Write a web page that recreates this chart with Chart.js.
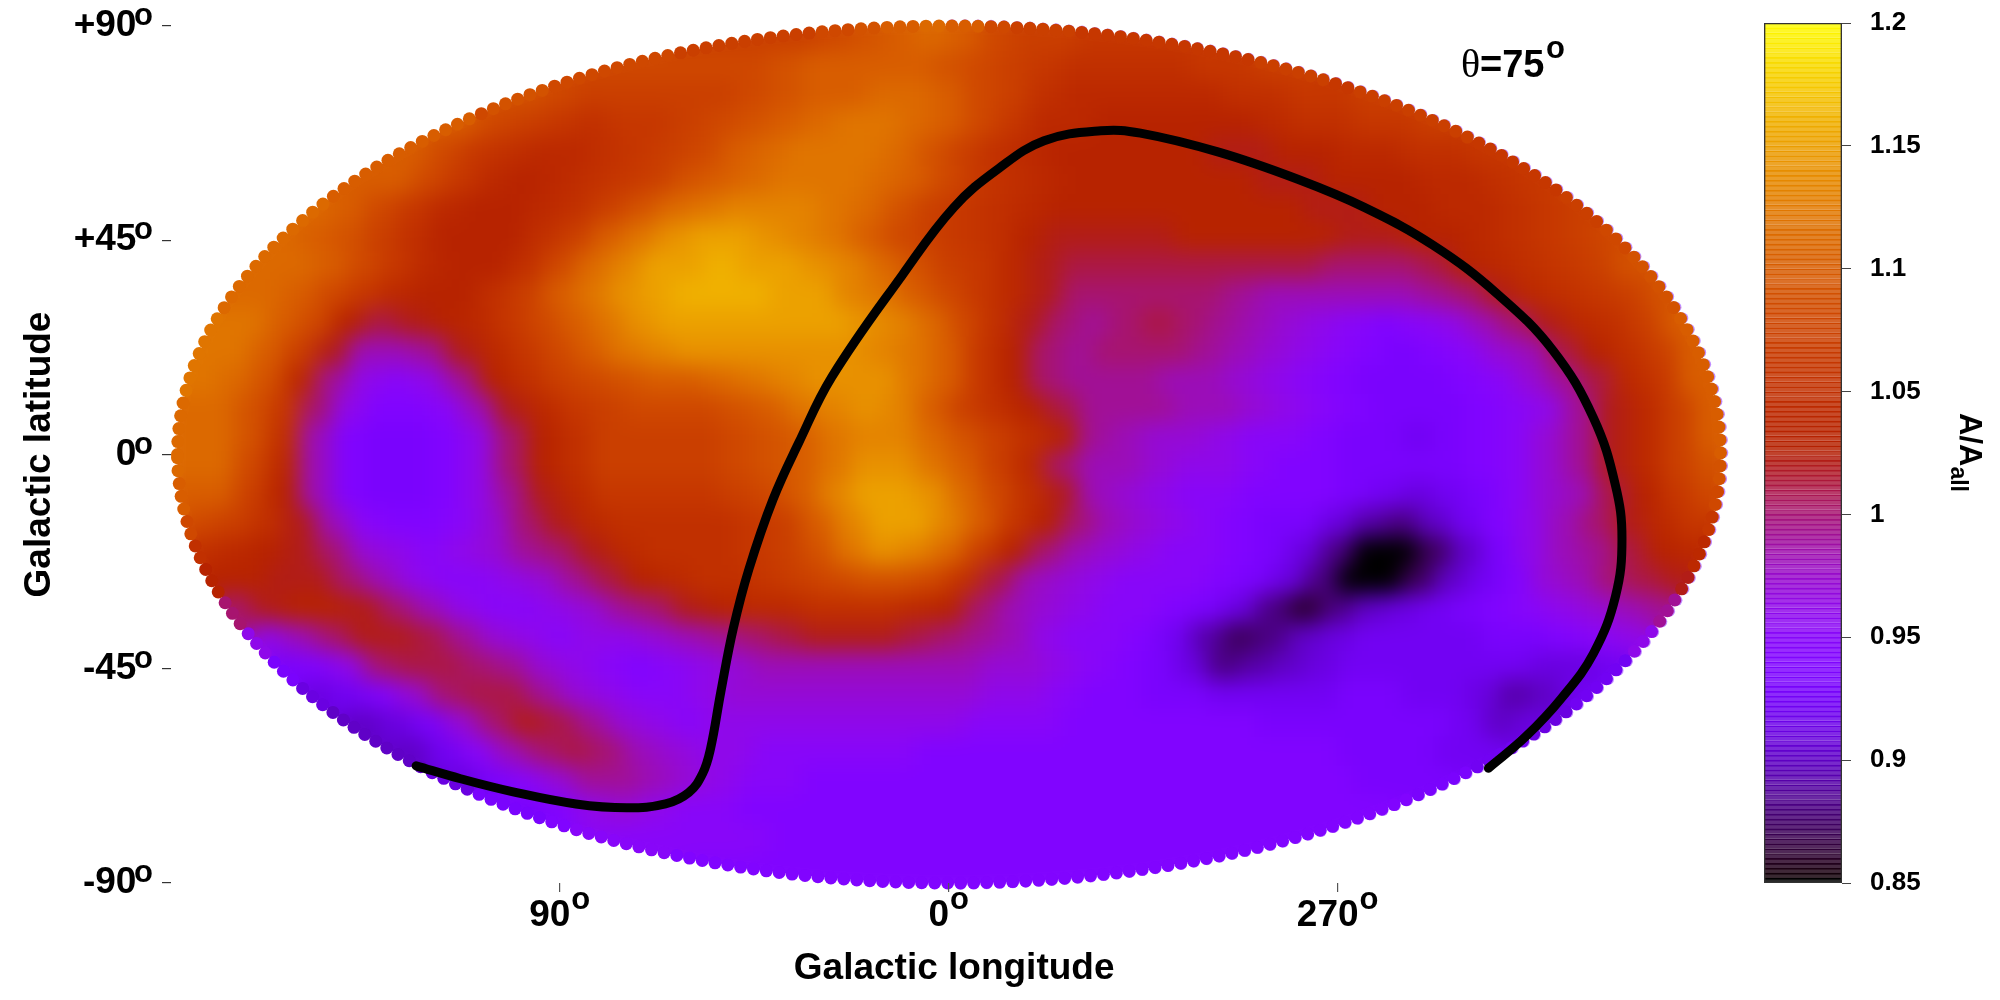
<!DOCTYPE html>
<html><head><meta charset="utf-8">
<style>html,body{margin:0;background:#fff;width:2000px;height:1000px;overflow:hidden}
canvas{position:absolute;top:0}</style>
<script src="https://cdn.jsdelivr.net/npm/chart.js@4"></script></head>
<body><canvas id="map" width="2000" height="1000" style="left:0"></canvas>
<canvas id="bar" width="260" height="1000" style="left:1740px"></canvas>
<script>
const FONT='"Liberation Sans",Arial,sans-serif';
const latTickValues=[90,45,0,-45,-90];
const latTickLabels=['+90','+45','0','-45','-90'];
const lonTickValues=[90,0,-90];
const lonTickLabels=['90','0','270'];
const barTickValues=[0.85,0.9,0.95,1,1.05,1.1,1.15,1.2];
const cellLon=7.5;
const rowLats=[87,81,75,69,63,57,51,45,39,33,27,21,15,9,3,-3,-9,-15,-21,-27,-33,-39,-45,-51,-57,-63,-69,-75,-81,-87];
// A/A_all in percent, each row reads left to right on the map and is centred on longitude 0
const rowsNorth=[
[107,107,108,109,110,111,110,108,107,107,106,106],
[108,108,108,108,108,109,110,110,110,110,109,108,107,106,105,105,105,105,106,106,107],
[109,108,107,107,107,107,107,108,109,110,110,111,111,110,108,107,105,104,104,104,104,104,105,105,106,106,107],
[110,108,107,106,105,106,106,107,108,109,110,111,112,112,111,110,108,106,104,104,103,103,103,103,103,104,105,105,106,106,107],
[110,108,106,105,104,104,105,106,107,108,110,111,112,112,112,111,109,107,105,104,103,103,103,103,103,102,102,103,103,104,104,105,105,106],
[110,110,108,106,104,103,104,105,106,107,109,110,111,112,112,112,111,110,108,106,105,104,103,103,103,103,103,103,102,102,103,103,103,104,104,105,106],
[111,110,108,106,104,103,103,104,105,107,109,111,112,113,113,113,112,111,109,107,106,105,104,103,103,103,103,103,103,103,103,102,102,103,103,104,104,105,106,107],
[111,110,109,107,105,103,103,103,105,107,110,112,114,115,115,114,113,112,110,108,107,106,105,103,102,102,102,102,103,103,103,103,103,102,102,103,103,104,105,106,107,108],
[111,111,110,108,106,104,103,103,105,108,111,113,115,115,116,115,115,114,113,111,109,107,106,104,102,101,101,101,101,101,101,101,101,100,100,100,101,103,104,105,106,107,109],
[111,111,110,108,106,104,103,103,105,107,110,112,114,115,116,116,116,115,115,113,112,110,108,106,104,102,100,100,100,100,100,99,98,98,98,98,98,99,100,102,104,105,106,107,109],
[112,112,110,108,103,101,102,103,104,106,108,110,112,114,115,115,115,115,115,115,114,113,111,108,105,102,100,99,100,101,100,99,98,97,96,95,94,95,96,98,100,102,104,105,107,110],
[112,112,110,107,102,98,98,99,102,104,106,108,110,112,113,114,114,114,114,114,114,113,112,110,106,103,100,99,100,100,100,99,98,97,96,95,94,93,94,95,97,98,101,103,105,107,110],
[112,111,109,104,99,96,95,96,99,103,105,107,108,109,110,110,111,112,113,114,114,114,112,110,106,103,100,99,99,99,98,98,97,96,95,94,93,93,93,94,95,97,99,101,104,106,110],
[111,111,109,106,100,96,94,94,95,98,102,104,106,107,108,108,108,109,110,112,113,114,113,110,107,105,103,101,99,99,99,98,98,97,96,95,94,93,93,93,94,95,96,99,102,104,107,110],
[111,111,109,105,98,94,93,93,94,96,100,103,105,107,107,107,107,108,109,110,112,113,113,111,109,107,105,103,99,98,97,97,96,95,95,94,93,93,92,93,94,95,97,99,102,104,107,110]
];
const rowsSouth=[
[111,111,108,104,98,94,93,93,94,96,100,103,105,107,107,107,107,108,109,110,112,114,114,112,110,107,104,100,98,98,97,96,96,95,94,94,93,93,93,93,94,95,97,99,102,104,107,109],
[110,110,107,103,98,94,93,93,94,96,99,102,104,106,106,106,106,107,108,110,113,115,115,114,111,108,105,102,98,97,96,95,95,94,94,94,93,92,91,92,93,95,97,98,101,103,106,108],
[108,107,105,102,98,95,94,94,95,97,100,102,104,105,105,105,105,106,107,110,113,115,115,113,110,106,103,100,98,97,96,95,94,93,93,91,89,88,90,92,94,96,98,100,102,104,106],
[105,104,103,102,100,97,96,95,96,97,99,100,102,104,105,105,105,106,107,109,112,114,113,111,107,103,100,98,97,96,95,95,94,93,91,88,85,85,87,90,93,96,98,99,101,103,104],
[103,103,102,102,100,98,96,95,95,96,97,99,101,103,104,105,105,106,107,108,109,109,108,105,101,98,97,96,95,95,95,94,93,91,88,85,85,87,90,92,94,97,98,100,101,102],
[100,102,103,103,102,100,98,96,95,95,96,97,99,100,102,103,104,104,105,105,105,104,103,100,98,97,96,95,95,94,93,91,88,86,88,90,91,92,93,94,95,96,97,98,99],
[96,98,100,102,102,101,99,97,96,95,96,96,97,98,99,100,101,102,102,102,101,100,99,98,96,95,95,94,92,89,87,88,90,91,92,92,92,92,93,93,94,95,96],
[93,94,96,100,101,101,100,99,97,96,95,94,95,96,97,98,98,98,98,98,98,98,97,97,96,95,94,93,91,88,89,90,91,92,92,92,92,92,92,91,91,92],
[91,92,94,97,100,101,101,99,97,96,95,95,96,97,97,97,97,97,97,97,97,96,96,95,94,94,93,93,92,92,92,92,93,93,92,92,91,89,90,92],
[90,91,93,97,100,102,101,99,97,96,95,96,96,96,96,96,96,96,96,95,95,95,94,94,94,94,94,94,93,93,93,93,93,93,92,90,91],
[90,92,95,98,100,101,100,98,97,96,96,95,95,95,95,95,94,94,94,94,94,94,94,94,94,94,94,94,94,93,93,93,92,92],
[91,93,95,97,99,99,98,97,96,95,95,94,94,94,94,94,94,94,94,94,94,94,94,94,94,94,94,94,93,93,93],
[93,94,96,97,96,95,95,94,94,94,94,94,94,94,94,94,94,94,94,94,94,94,94,94,94,94,94],
[95,95,95,95,95,94,94,94,94,94,94,94,94,94,94,94,94,94,94,94,94],
[94,94,94,94,94,94,94,94,94,94,94,94]
];
const pathLon=[123.3,113,101.1,86.3,74.5,65.6,60.2,57,55.2,52.8,49.9,46.3,40.7,34.8,27.1,10.8,-1.1,-11.4,-22,-35.1,-44.3,-62.4,-80.7,-96.1,-112.1,-126.9,-139.7,-149.1,-154.2,-155.7,-154.2,-149.1,-141.7,-133.5,-124.8];
const pathLat=[-65.4,-68.1,-70.8,-73.4,-74.2,-73.4,-71,-67,-61.9,-49.9,-36.5,-24.1,-9.4,2.4,16.3,37.7,51.9,60,65.9,68,67.5,63.5,57.8,51.9,43.9,33.7,21.9,7.7,-6.5,-17.7,-29.8,-41.8,-51.2,-59.2,-65.9];

const rows=rowsNorth.concat(rowsSouth);
// gnuplot pm3d palette (rgbformulae 7,5,15) between the colour-bar limits
function rgb(v){
  const t=Math.min(1,Math.max(0,(v-0.85)/0.35));
  return [Math.sqrt(t),t*t*t,Math.max(0,Math.sin(2*Math.PI*t))].map(c=>Math.round(c*255));
}
const css=(v,a=1)=>{const c=rgb(v);return `rgba(${c[0]},${c[1]},${c[2]},${a})`;};

const cells=[],cellColors=[];
rows.forEach((row,i)=>row.forEach((val,j)=>{
  cells.push({x:((row.length-1)/2-j)*cellLon,y:rowLats[i]});
  cellColors.push(css(val/100));
}));
function nearest(lon,lat){
  let i=Math.round((87-lat)/6);i=Math.max(0,Math.min(rows.length-1,i));
  const row=rows[i];
  let j=Math.round((row.length-1)/2-lon/cellLon);j=Math.max(0,Math.min(row.length-1,j));
  return row[j]/100;
}
// scalloped outline of the all-sky ellipse
const rim=[],rimColors=[];
{const A=178.5,B=90,sx=778/180,sy=430/90,step=13;
 for(let t=0;t<2*Math.PI;){
   const lon=A*Math.cos(t),lat=B*Math.sin(t);
   rim.push({x:lon,y:lat});rimColors.push(css(nearest(lon,lat)));
   t+=step/Math.hypot(A*sx*Math.sin(t),B*sy*Math.cos(t));
 }}
const rimBack=rim.filter(p=>p.x<0).map(p=>({x:p.x*1.003,y:p.y*1.003}));
const path=pathLon.map((x,i)=>({x,y:pathLat[i]}));

const softenHeat={id:'softenHeat',afterDatasetDraw(chart,args){
  if(args.index!==1)return;
  const c=chart.canvas,ctx=chart.ctx;
  const off=document.createElement('canvas');off.width=c.width;off.height=c.height;
  const o=off.getContext('2d');o.filter='blur(11px)';o.drawImage(c,0,0);
  ctx.save();ctx.setTransform(1,0,0,1,0,0);ctx.clearRect(0,0,c.width,c.height);
  ctx.beginPath();
  const x=chart.scales.x,y=chart.scales.y;
  ctx.ellipse(x.getPixelForValue(0),y.getPixelForValue(0),Math.abs(x.getPixelForValue(0)-x.getPixelForValue(178.5)),Math.abs(y.getPixelForValue(0)-y.getPixelForValue(90)),0,0,2*Math.PI);
  ctx.clip();ctx.drawImage(off,0,0);ctx.restore();
}};
const mapText={id:'mapText',afterDraw(chart){
  const ctx=chart.ctx,x=chart.scales.x,y=chart.scales.y,area=chart.chartArea;
  ctx.save();ctx.fillStyle='#000';ctx.textBaseline='alphabetic';ctx.textAlign='left';
  ctx.font='40px "Liberation Serif",serif';ctx.fillText('θ',1461,77);
  ctx.font='bold 38px '+FONT;ctx.fillText('=75',1480,77);
  ctx.font='bold 31px '+FONT;ctx.fillText('o',1546,58);
  // raised degree mark after each tick label
  ctx.font='bold 37px '+FONT;
  const sp=ctx.measureText('  ').width;
  const lw=lonTickLabels.map(t=>ctx.measureText(t).width);
  ctx.font='bold 31px '+FONT;
  lonTickValues.forEach((v,i)=>{ctx.fillText('o',x.getPixelForValue(v)-(lw[i]+sp)/2+lw[i]+1,area.bottom+26);});
  latTickValues.forEach(v=>{ctx.fillText('o',area.left-37,y.getPixelForValue(v)-1);});
  ctx.restore();
}};
new Chart(document.getElementById('map'),{
  type:'scatter',
  data:{datasets:[
    {label:'halo',data:rim,backgroundColor:rimColors,pointStyle:'rect',pointRadius:26,pointBorderWidth:0,clip:false,order:6},
    {label:'A/A_all',data:cells,backgroundColor:cellColors,pointStyle:'rect',pointRadius:25,pointBorderWidth:0,clip:false,order:5},
    {label:'rim back',data:rimBack,backgroundColor:'#c08cff',pointRadius:5.5,pointBorderWidth:0,clip:false,order:3},
    {label:'rim',data:rim,backgroundColor:rimColors,pointRadius:6.5,pointBorderWidth:0,clip:false,order:2},
    {label:'path',type:'line',data:path,borderColor:'#000',borderWidth:9,borderCapStyle:'round',tension:0.4,pointRadius:0,fill:false,clip:false,order:1}
  ]},
  options:{
    responsive:false,animation:false,devicePixelRatio:1,
    layout:{padding:{top:23,right:273,left:0,bottom:0}},
    plugins:{legend:{display:false},tooltip:{enabled:false}},
    scales:{
      x:{type:'linear',min:-180,max:180,reverse:true,
        afterBuildTicks:s=>{s.ticks=lonTickValues.map(value=>({value}));},
        afterFit:s=>{s.height=117;s.paddingLeft=0;s.paddingRight=0;},
        grid:{z:1,drawOnChartArea:false,drawTicks:true,tickLength:9,tickColor:'#555',lineWidth:1.2},
        border:{display:false},
        ticks:{z:1,autoSkip:false,maxRotation:0,padding:2,color:'#000',font:{family:FONT,weight:'bold',size:37},
          callback:v=>lonTickLabels[lonTickValues.indexOf(v)]+'  '},
        title:{display:true,text:' Galactic longitude',color:'#000',font:{family:FONT,weight:'bold',size:37},padding:{top:0,bottom:9}}},
      y:{type:'linear',min:-90,max:90,
        afterBuildTicks:s=>{s.ticks=latTickValues.map(value=>({value}));},
        afterFit:s=>{s.width=171;s.paddingTop=0;s.paddingBottom=0;},
        grid:{z:1,drawOnChartArea:false,drawTicks:true,tickLength:9,tickColor:'#333',lineWidth:1.2},
        border:{display:false},
        ticks:{z:1,autoSkip:false,padding:5,color:'#000',font:{family:FONT,weight:'bold',size:37},
          callback:v=>latTickLabels[latTickValues.indexOf(v)]+'  '},
        title:{display:true,text:'Galactic latitude',color:'#000',font:{family:FONT,weight:'bold',size:37},padding:{top:18,bottom:0}}}
    }
  },
  plugins:[softenHeat,mapText]
});

// colour bar
const bandStep=0.002,bandSets=[];
for(let k=0;k<175;k++){
  const lo=0.85+k*bandStep,hi=lo+bandStep;
  bandSets.push({data:[[lo,hi]],backgroundColor:css(lo,0.84),borderColor:css(lo,1),borderWidth:{top:1,bottom:0,left:0,right:0},borderSkipped:false,grouped:false,barPercentage:1,categoryPercentage:1});
}
bandSets.unshift({data:[[0.85,1.2]],backgroundColor:'rgba(0,0,0,0)',borderColor:'#333',borderWidth:1,borderSkipped:false,grouped:false,barPercentage:1,categoryPercentage:1});
const barText={id:'barText',afterDraw(chart){
  const ctx=chart.ctx;ctx.save();ctx.fillStyle='#000';ctx.textAlign='left';ctx.textBaseline='alphabetic';
  ctx.translate(1960-1740,413);ctx.rotate(Math.PI/2);
  ctx.font='bold 31px '+FONT;ctx.fillText('A/A',0,0);
  const w=ctx.measureText('A/A').width;
  ctx.font='bold 23px '+FONT;ctx.fillText('all',w,9);
  ctx.restore();
}};
new Chart(document.getElementById('bar'),{
  type:'bar',
  data:{labels:[''],datasets:bandSets},
  options:{
    responsive:false,animation:false,devicePixelRatio:1,
    layout:{padding:{top:23,left:24,right:0,bottom:117}},
    plugins:{legend:{display:false},tooltip:{enabled:false}},
    scales:{
      x:{display:false},
      y:{position:'right',min:0.85,max:1.2,
        afterBuildTicks:s=>{s.ticks=barTickValues.map(value=>({value}));},
        afterFit:s=>{s.width=158;s.paddingTop=0;s.paddingBottom=0;},
        grid:{z:1,drawOnChartArea:false,tickLength:9,tickColor:'#444',lineWidth:1},
        border:{display:false},
        ticks:{z:1,autoSkip:false,padding:19,color:'#000',font:{family:FONT,weight:'bold',size:26},
          callback:v=>String(v)}}
    }
  },
  plugins:[barText]
});
</script></body></html>
